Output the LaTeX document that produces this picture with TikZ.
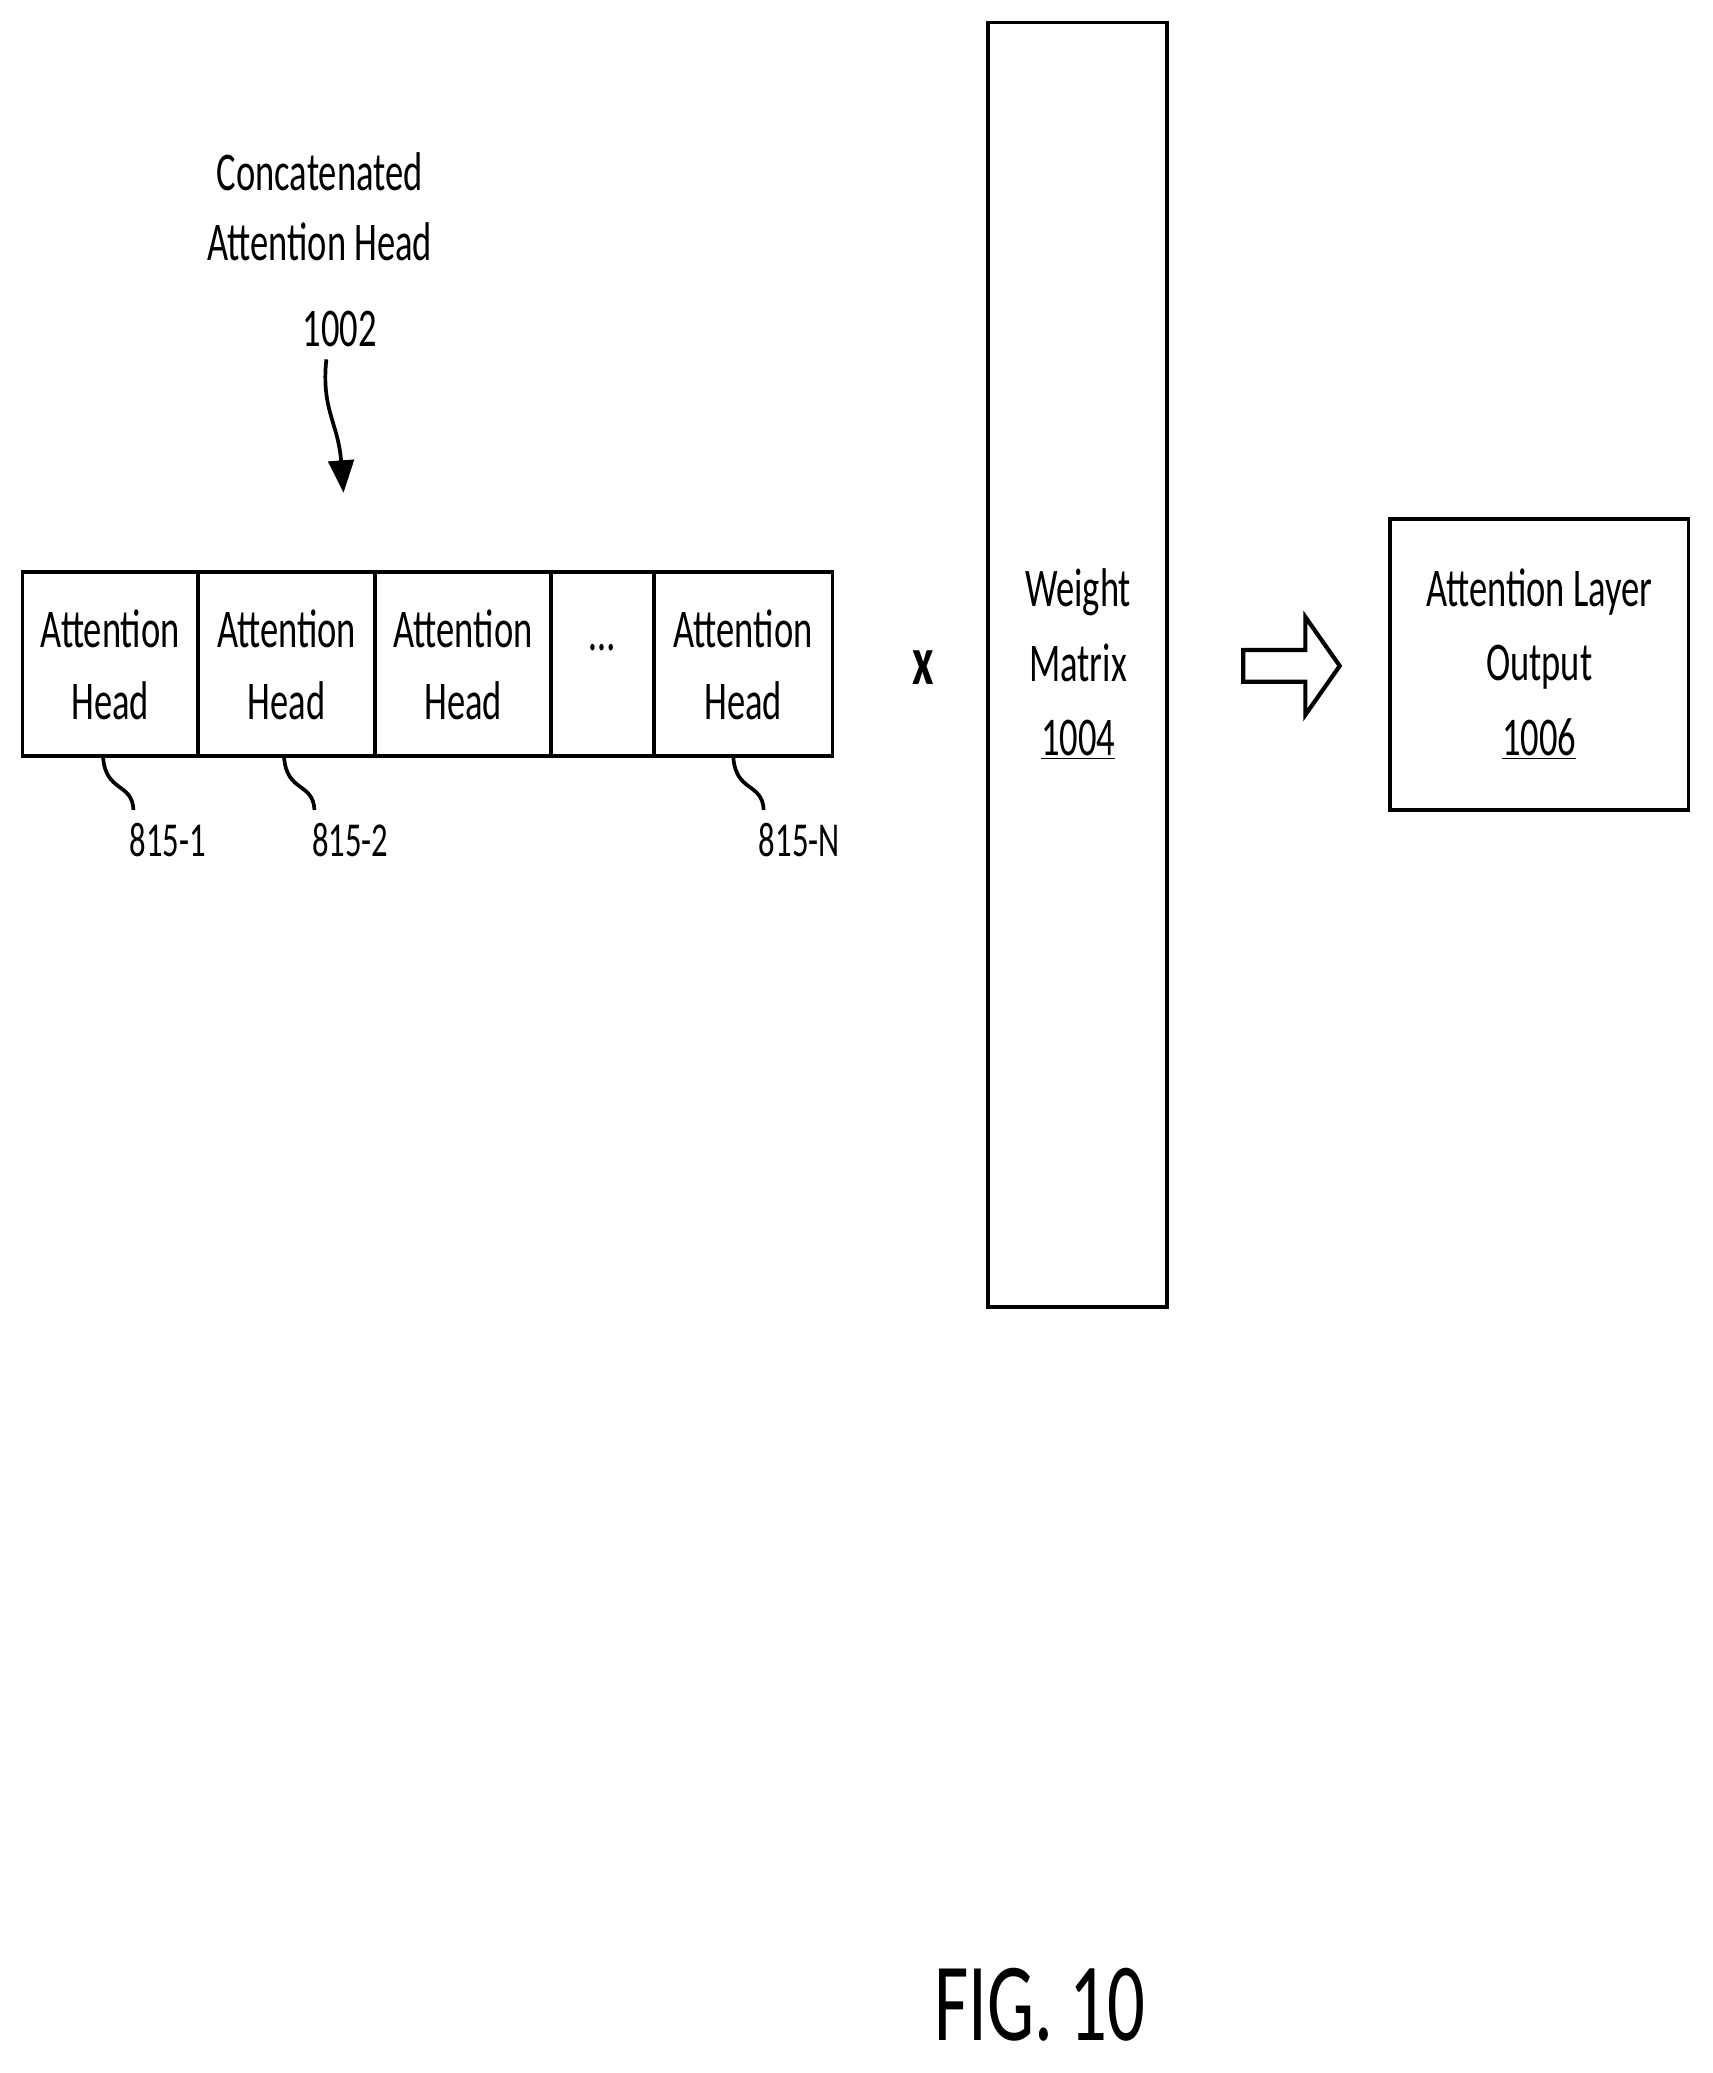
\documentclass[tikz,border=0pt]{standalone}
\usepackage{fontspec}
\setmainfont{Carlito}[FakeStretch=0.67]
\usetikzlibrary{arrows.meta}
\begin{document}
\begin{tikzpicture}[x=0.02cm,y=-0.02cm,line width=1.6pt,
  txt/.style={font=\fontsize{23.5}{27}\selectfont,align=center,inner sep=0},
  lbl/.style={font=\fontsize{21}{25}\selectfont,inner sep=0}]
\useasboundingbox (0,0) rectangle (1296,1569);
% head row
\draw (17,433) rectangle (630,572);
\foreach \x in {150,284,417,495} \draw (\x,433) -- (\x,572);
\node[txt] (h1) at (83.5,503) {Attention\\[4pt]Head};
\node[txt] (h2) at (217,503) {Attention\\[4pt]Head};
\node[txt] (h3) at (350.5,503) {Attention\\[4pt]Head};
\node[txt] (hd) at (456,490) {…};
\node[txt] (hn) at (562.5,503) {Attention\\[4pt]Head};
% title
\node[txt] (t1) at (242,130) {Concatenated};
\node[txt] (t2) at (242,183) {Attention Head};
\node[txt] (t3) at (257,249) {1002};
\coordinate (a0) at (247,272);
\coordinate (a1) at (260,373);
\draw[-{Triangle[length=14pt,width=11pt]}] (a0) .. controls (243,310) and (256,320) .. (a1);
% labels
\node[lbl] (l1) at (127,636) {815-1};
\node[lbl] (l2) at (265,636) {815-2};
\node[lbl] (ln) at (605,636) {815-N};
\draw (78,573) .. controls (80,600) and (100,592) .. (101,613);
\draw (215,573) .. controls (217,600) and (237,592) .. (238,613);
\draw (555,573) .. controls (557,600) and (577,592) .. (578,613);
% times
\node[txt,font=\fontsize{30}{30}\selectfont\bfseries] (times) at (699,505) {x};
% weight
\draw (748,17) rectangle (883,989);
\node[txt] (w) at (816,503) {Weight\\[5pt]Matrix\\[5pt]\underline{1004}};
% hollow arrow
\draw[line width=1.8pt,line join=miter] (941,492) -- (988,492) -- (988,467) -- (1014,504) -- (988,541) -- (988,516) -- (941,516) -- cycle;
% output
\draw (1052,393) rectangle (1278,613);
\node[txt] (o) at (1165,503) {Attention Layer\\[5pt]Output\\[5pt]\underline{1006}};
\node[font=\fontsize{48}{48}\selectfont,inner sep=0] (fig) at (787,1517) {FIG. 10};
\end{tikzpicture}
\end{document}
